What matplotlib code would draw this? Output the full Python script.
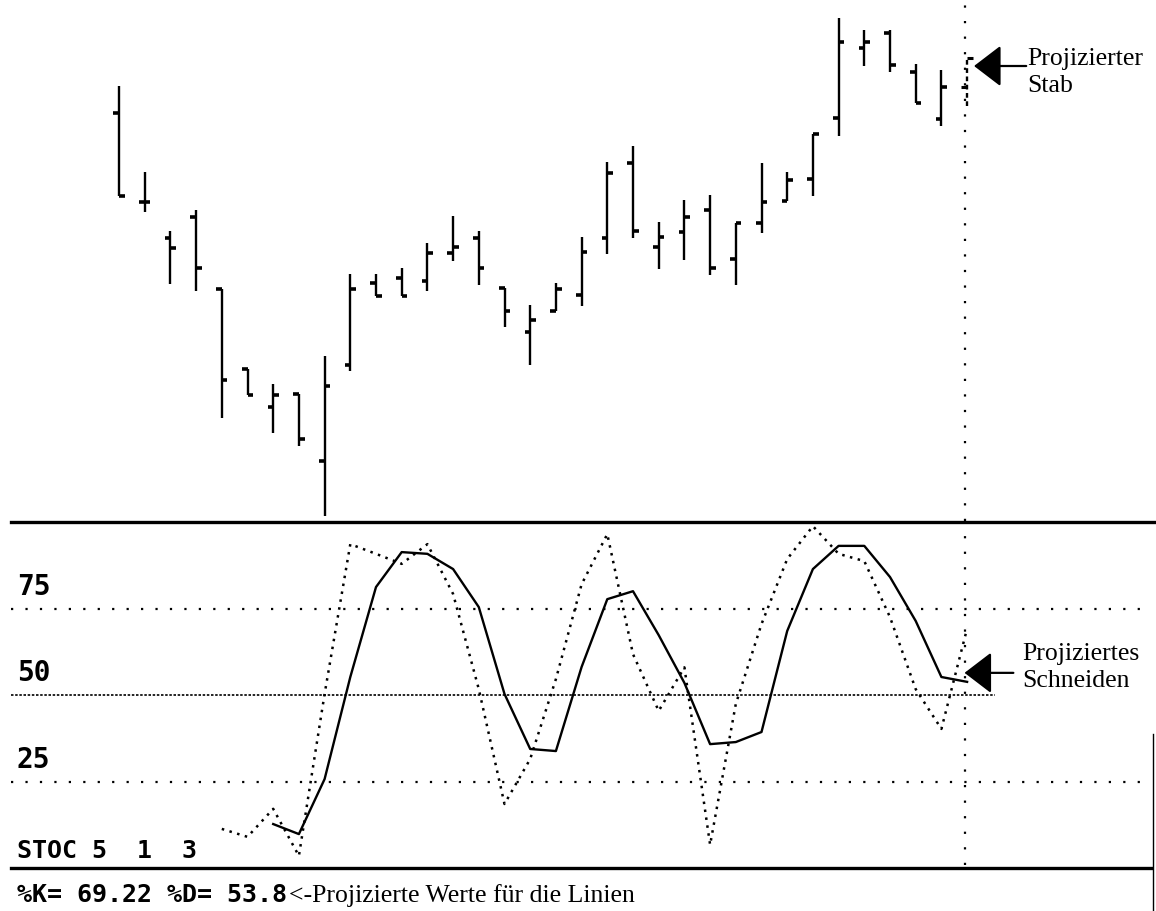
import numpy as np
import matplotlib

matplotlib.use("Agg")
import matplotlib.pyplot as plt
from matplotlib.transforms import blended_transform_factory

# price bars (arbitrary price units); last bar is the projected one
bar_high = [128.25, 106.75, 92.0, 97.25, 77.5, 57.5, 53.75, 51.25, 60.75, 81.25,
            81.25, 82.75, 89.0, 95.75, 92.0, 77.75, 73.5, 79.0, 90.5, 109.25,
            113.25, 94.25, 99.75, 101.0, 94.0, 109.0, 106.75, 116.25, 145.25, 142.25,
            142.25, 133.75, 132.25, 135.25]
bar_low = [100.75, 96.75, 78.75, 77.0, 45.25, 51.0, 41.5, 38.25, 20.75, 57.0,
           75.75, 75.75, 77.0, 84.5, 78.5, 68.0, 58.5, 72.0, 73.25, 86.25,
           90.25, 82.5, 84.75, 81.0, 78.5, 91.5, 99.5, 100.75, 115.75, 133.25,
           131.75, 124.0, 118.25, 123.25]
bar_open = [121.5, 99.25, 90.25, 95.5, 77.5, 57.5, 48.0, 51.25, 34.5, 58.5,
            79.0, 80.25, 79.5, 86.5, 90.25, 77.75, 66.75, 72.0, 76.0, 90.25,
            109.0, 88.0, 91.75, 97.25, 85.0, 94.0, 99.5, 105.0, 120.25, 137.75,
            141.5, 131.75, 120.0, 128.0]
bar_close = [100.75, 99.25, 87.75, 82.75, 54.75, 51.0, 51.0, 40.0, 53.25, 77.5,
             75.75, 75.75, 86.5, 88.0, 82.75, 72.0, 69.75, 77.5, 86.75, 106.5,
             92.0, 90.5, 95.5, 82.75, 94.0, 99.25, 104.75, 116.25, 139.25, 139.25,
             133.5, 124.0, 128.0, 135.25]

# stochastic 5 1 3: %K (dotted) starts at bar 5, %D (solid) at bar 7
k_start = 4
k_values = [11.3, 9.0, 17.1, 3.5, 50.3, 93.6, 90.8, 87.9, 93.6, 79.2,
            51.7, 18.5, 31.5, 54.6, 82.0, 96.5, 61.8, 45.4, 58.0, 6.7,
            47.4, 70.5, 89.3, 98.8, 90.8, 88.7, 72.5, 51.7, 40.2, 69.22]
d_start = 6
d_values = [12.7, 9.8, 25.7, 55.2, 81.2, 91.3, 90.8, 86.4, 75.4, 50.3,
            34.4, 33.8, 58.1, 77.7, 80.0, 67.3, 53.5, 35.8, 36.4, 39.3,
            68.5, 86.4, 93.1, 93.1, 84.1, 71.4, 55.2, 53.8]
levels = [75, 50, 25]
level_labels = ["75", "50", "25"]

# layout (pixels of the 1156x912 picture)
W, H = 1156, 912
x0_px, dx_px = 119, 25.7
split_px = 522
s0_px, s_px = 869, 3.46

screen_font = ["DejaVu Sans Mono"]
serif_font = ["Liberation Serif", "DejaVu Serif"]

fig = plt.figure(figsize=(W / 100, H / 100), dpi=100)
ax_top = fig.add_axes([0, (H - split_px) / H, 1, split_px / H])
ax_bot = fig.add_axes([0, 0, 1, (H - split_px) / H])
xlim = (-x0_px / dx_px, (W - x0_px) / dx_px)
for ax in (ax_top, ax_bot):
    ax.set_xlim(*xlim)
    ax.set_axis_off()
ax_top.set_ylim(19.5, 150)
ax_bot.set_ylim(-(H - s0_px) / s_px, (s0_px - split_px) / s_px)

n = len(bar_high)
idx = np.arange(n)
high, low = np.array(bar_high), np.array(bar_low)
opn, cls = np.array(bar_open), np.array(bar_close)
tick = 0.22

# real bars
ax_top.vlines(idx[:-1], low[:-1], high[:-1], color="k", lw=1.7)
ax_top.hlines(opn[:-1], idx[:-1] - tick, idx[:-1], color="k", lw=2.6)
ax_top.hlines(cls[:-1], idx[:-1], idx[:-1] + tick, color="k", lw=2.6)
# projected bar
ax_top.vlines(idx[-1], low[-1], high[-1], color="k", lw=1.7, linestyles=(0, (2, 1.5)))
ax_top.hlines(opn[-1], idx[-1] - tick, idx[-1], color="k", lw=2.2)
ax_top.hlines(cls[-1], idx[-1], idx[-1] + tick, color="k", lw=2.2)

# vertical marker through the projected bar
ax_top.axvline(idx[-1] - 0.08, color="k", lw=1.6, ls=(0, (1, 6)))
ax_bot.vlines(idx[-1] - 0.08, 1, 100, color="k", lw=1.6, linestyles=(0, (1, 6)))

# stochastic panel
ax_bot.axhline(100, xmin=0.0095, xmax=1, color="k", lw=2.4, clip_on=False)
ax_bot.axhline(0, xmin=0.0095, xmax=0.996, color="k", lw=2.4)
for lv in levels:
    if lv == 50:
        ax_bot.axhline(lv, xmin=0.0095, xmax=0.861, color="k", lw=1.2, ls=(0, (1.5, 1)))
    else:
        ax_bot.axhline(lv, xmin=0.0095, xmax=0.995, color="k", lw=1.6, ls=(0, (1, 5.5)))
ax_bot.plot([0.9974, 0.9974], [0, 0.454], transform=ax_bot.transAxes, color="k", lw=1)

ax_bot.plot(idx[k_start:], k_values, color="k", lw=1.8, ls=(0, (1, 2.2)))
ax_bot.plot(idx[d_start:], d_values, color="k", lw=1.7)

lbl_tr = blended_transform_factory(ax_bot.transAxes, ax_bot.transData)
for lv, lab in zip(levels, level_labels):
    ax_bot.text(0.0147, lv + 2.5, lab, transform=lbl_tr, family=screen_font,
                weight="bold", fontsize=20, va="bottom", ha="left")
ax_bot.text(0.0147, 3.2, "STOC 5  1  3", transform=lbl_tr, family=screen_font,
            weight="bold", fontsize=18, va="baseline", ha="left")
ax_bot.text(0.0147, -9.5, f"%K= {k_values[-1]:.2f} %D= {d_values[-1]:.1f}", transform=lbl_tr,
            family=screen_font, weight="bold", fontsize=18, va="baseline", ha="left")
ax_bot.text(0.25, -9.5, "<-Projizierte Werte für die Linien", transform=lbl_tr,
            family=serif_font, fontsize=18.5, va="baseline", ha="left")

# annotations
arrow = dict(arrowstyle="-|>,head_length=1.7,head_width=1.3", color="k", lw=1.6,
             shrinkA=0, shrinkB=0, mutation_scale=10)
ax_top.annotate("", xy=(idx[-1] + 0.27, 133.25), xytext=(idx[-1] + 2.3, 133.25), arrowprops=arrow)
ax_top.text(0.889, 1 - 48 / split_px, "Projizierter\nStab", transform=ax_top.transAxes,
            family=serif_font, fontsize=18.5, va="top", ha="left", linespacing=1.3)
ax_bot.annotate("", xy=(idx[-1] - 0.1, 56.4), xytext=(idx[-1] + 1.8, 56.4), arrowprops=arrow)
ax_bot.text(0.884, 1 - (643 - split_px) / (H - split_px), "Projiziertes\nSchneiden",
            transform=ax_bot.transAxes, family=serif_font, fontsize=18.5, va="top",
            ha="left", linespacing=1.3)

fig.savefig("out.png", dpi=100, facecolor="white")
plt.close(fig)
